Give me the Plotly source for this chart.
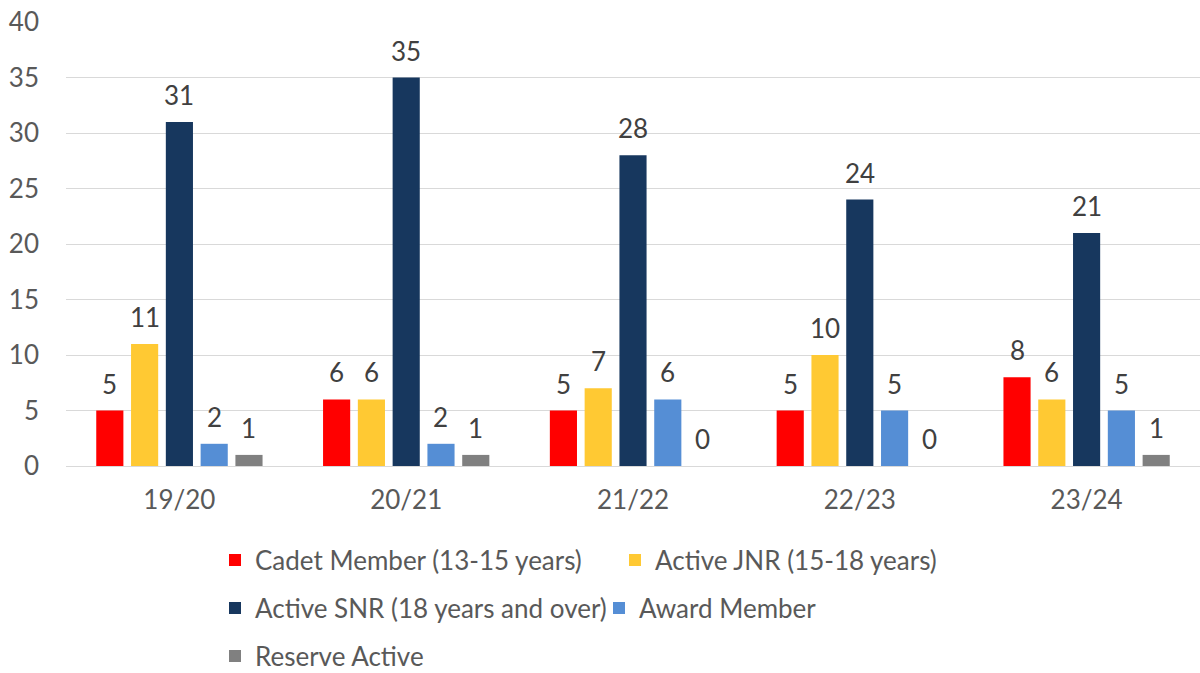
import plotly.graph_objects as go

categories = ["19/20", "20/21", "21/22", "22/23", "23/24"]
cadet = [5, 6, 5, 5, 8]
jnr = [11, 6, 7, 10, 6]
snr = [31, 35, 28, 24, 21]
award = [2, 2, 6, 5, 5]
reserve = [1, 1, 0, 0, 1]

series = [
    ("Cadet Member (13-15 years)", cadet, "#FF0000", "legend"),
    ("Active JNR (15-18 years)", jnr, "#FFC933", "legend"),
    ("Active SNR (18 years and over)", snr, "#17375E", "legend2"),
    ("Award Member", award, "#558ED5", "legend2"),
    ("Reserve Active", reserve, "#808080", "legend3"),
]

FONT = "Lato"
TXT = "#595959"
W, H = 1200, 673
ML, MR, MT = 66, 0, 22
MB = H - 466
plot_w = W - ML - MR
plot_h = H - MT - MB
bargap = 0.233
pitch = plot_w / len(categories) * (1 - bargap) / len(series)

fig = go.Figure()
annotations = []
for i, (name, vals, color, lg) in enumerate(series):
    fig.add_trace(go.Bar(
        name=name, x=categories, y=vals, marker=dict(color=color, line=dict(width=0)),
        legend=lg,
    ))
    for c, v in zip(categories, vals):
        annotations.append(dict(
            x=c, y=v, xref="x", yref="y", text=str(v), showarrow=False,
            xshift=(i - (len(series) - 1) / 2) * pitch, yshift=27, yanchor="middle",
            font=dict(family=FONT, size=26, color="#404040"),
        ))

def py2paper(py):
    return (466 - py) / plot_h

def px2paper(px):
    return (px - 66) / plot_w

legend_common = dict(orientation="h", font=dict(family=FONT, size=26, color=TXT),
                     bgcolor="rgba(0,0,0,0)", xanchor="left", yanchor="middle",
                     itemwidth=30, entrywidthmode="pixels")
lx = px2paper(215)

fig.update_layout(
    width=W, height=H,
    margin=dict(l=ML, r=MR, t=MT, b=MB, autoexpand=False),
    paper_bgcolor="white", plot_bgcolor="white",
    barmode="group", bargap=bargap, bargroupgap=0.22,
    font=dict(family=FONT, size=26, color=TXT),
    xaxis=dict(showgrid=False, ticks="", showline=True, linecolor="#D9D9D9",
               automargin=False, ticklabeloverflow="allow",
               tickfont=dict(family=FONT, size=26, color=TXT), ticklabelstandoff=11),
    yaxis=dict(range=[0, 40], dtick=5, showgrid=True, gridcolor="#D9D9D9", gridwidth=1,
               zeroline=False, ticks="", automargin=False, ticklabeloverflow="allow",
               tickfont=dict(family=FONT, size=26, color=TXT),
               ticklabelstandoff=26),
    legend=dict(**legend_common, x=lx, y=py2paper(560), entrywidth=355),
    legend2=dict(**legend_common, x=lx, y=py2paper(608), entrywidth=339),
    legend3=dict(**legend_common, x=lx, y=py2paper(656)),
    annotations=annotations,
    showlegend=True,
)

fig.write_html("out.html", config={"displayModeBar": False},
               post_script="document.body.style.margin='0';")
